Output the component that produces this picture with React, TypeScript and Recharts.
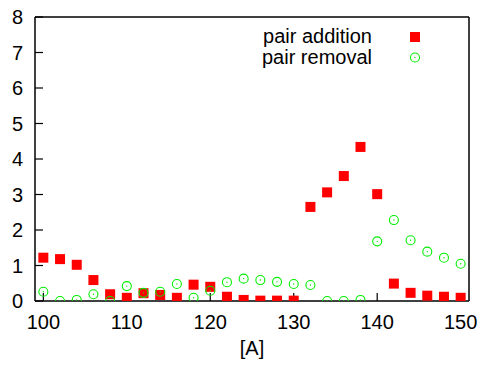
import React from 'react';
import { ScatterChart, Scatter, XAxis, YAxis, Legend } from 'recharts';

const massNumbers = [100, 102, 104, 106, 108, 110, 112, 114, 116, 118, 120, 122, 124, 126, 128, 130, 132, 134, 136, 138, 140, 142, 144, 146, 148, 150];
const pairAddition = [1.22, 1.18, 1.02, 0.59, 0.19, 0.09, 0.22, 0.17, 0.09, 0.46, 0.40, 0.12, 0.03, 0.01, 0.01, 0.01, 2.65, 3.06, 3.52, 4.34, 3.01, 0.49, 0.23, 0.15, 0.12, 0.09];
const pairRemoval = [0.26, 0.0, 0.03, 0.19, 0.0, 0.42, 0.23, 0.26, 0.48, 0.09, 0.29, 0.53, 0.63, 0.59, 0.54, 0.48, 0.45, 0.0, 0.0, 0.03, 1.68, 2.28, 1.71, 1.39, 1.22, 1.05];
const xTicks = [100, 110, 120, 130, 140, 150];
const yTicks = [0, 1, 2, 3, 4, 5, 6, 7, 8];
const seriesNames = ['pair addition', 'pair removal'];
const xLabel = '[A]';

const additionData = massNumbers.map((a, i) => ({ A: a, v: pairAddition[i] }));
const removalData = massNumbers.map((a, i) => ({ A: a, v: pairRemoval[i] }));

const RED = '#ff0000';
const GREEN = '#00ee00';
const FONT = '"Liberation Sans", Arial, Helvetica, sans-serif';

const Square = (props: any) => {
  const { cx, cy } = props;
  if (cx == null || cy == null) return null;
  return <rect x={cx - 5} y={cy - 5} width={10} height={10} fill={RED} />;
};

const Ring = (props: any) => {
  const { cx, cy } = props;
  if (cx == null || cy == null) return null;
  return (
    <g>
      <circle cx={cx} cy={cy} r={4.5} fill="none" stroke={GREEN} strokeWidth={1.1} />
      <circle cx={cx} cy={cy} r={0.7} fill={GREEN} />
    </g>
  );
};

const LegendContent = () => (
  <div style={{ position: 'relative', width: 200, height: 42, fontFamily: FONT, fontSize: 20, lineHeight: '20px', color: '#000' }}>
    {seriesNames.map((name, i) => (
      <div key={name} style={{ position: 'absolute', left: 0, top: i * 20.5, width: 200, height: 20 }}>
        <div style={{ position: 'absolute', left: 0, width: 122, textAlign: 'right', whiteSpace: 'nowrap' }}>{name}</div>
        <svg style={{ position: 'absolute', left: 155, top: 0 }} width={20} height={20}>
          {i === 0 ? (
            <rect x={5} y={6} width={10} height={10} fill={RED} />
          ) : (
            <g>
              <circle cx={10} cy={10.5} r={4.5} fill="none" stroke={GREEN} strokeWidth={1.1} />
              <circle cx={10} cy={10.5} r={0.7} fill={GREEN} />
            </g>
          )}
        </svg>
      </div>
    ))}
  </div>
);

const tickStyle = { fontFamily: FONT, fontSize: 20, fill: '#000' };
const axisLineStyle = { stroke: '#000', strokeWidth: 1.5 };
const tickLineStyle = { stroke: '#000', strokeWidth: 1.2 };

export default function App() {
  return (
    <div style={{ position: 'absolute', left: 0, top: 0, width: 481, height: 365, background: '#fff' }}>
      <ScatterChart width={481} height={365} margin={{ top: 16, right: 11, left: 0, bottom: 0 }}>
        <XAxis
          dataKey="A"
          type="number"
          domain={[99, 151]}
          allowDataOverflow
          ticks={xTicks}
          interval={0}
          height={64}
          tickSize={-8}
          tickMargin={22}
          tick={tickStyle}
          axisLine={axisLineStyle}
          tickLine={tickLineStyle}
          label={{ value: xLabel, position: 'insideBottom', offset: 10, style: { fontFamily: FONT, fontSize: 20, fill: '#000' } }}
        />
        <XAxis
          xAxisId="top"
          orientation="top"
          dataKey="A"
          type="number"
          domain={[99, 151]}
          allowDataOverflow
          ticks={xTicks}
          interval={0}
          height={1}
          tickSize={-8}
          tick={false}
          axisLine={axisLineStyle}
          tickLine={tickLineStyle}
        />
        <YAxis
          dataKey="v"
          type="number"
          domain={[0, 8]}
          allowDataOverflow
          ticks={yTicks}
          interval={0}
          width={35}
          tickSize={-8}
          tickMargin={20}
          tick={tickStyle}
          axisLine={axisLineStyle}
          tickLine={tickLineStyle}
        />
        <YAxis
          yAxisId="right"
          orientation="right"
          dataKey="v"
          type="number"
          domain={[0, 8]}
          allowDataOverflow
          ticks={yTicks}
          interval={0}
          width={1}
          tickSize={-8}
          tick={false}
          axisLine={axisLineStyle}
          tickLine={tickLineStyle}
        />
        <Legend
          layout="horizontal"
          verticalAlign="middle"
          align="center"
          content={<LegendContent />}
          wrapperStyle={{ position: 'absolute', left: 250, top: 26, width: 200, height: 42 }}
        />
        <Scatter name={seriesNames[0]} data={additionData} fill={RED} shape={<Square />} isAnimationActive={false} />
        <Scatter name={seriesNames[1]} data={removalData} fill={GREEN} shape={<Ring />} isAnimationActive={false} />
      </ScatterChart>
    </div>
  );
}
